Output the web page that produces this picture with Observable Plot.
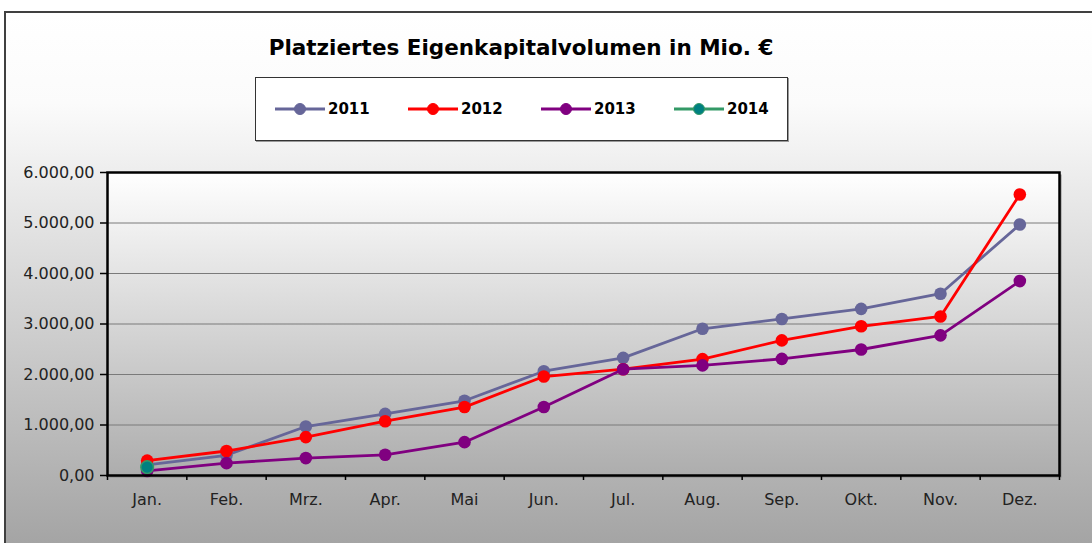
<!DOCTYPE html>
<html>
<head>
<meta charset="utf-8">
<script src="https://cdn.jsdelivr.net/npm/d3@7"></script>
<script src="https://cdn.jsdelivr.net/npm/@observablehq/plot@0.6"></script>
<style>
  html, body { margin: 0; padding: 0; background: #fff; }
  #wrap { position: relative; width: 1092px; height: 543px; overflow: hidden; font-family: "DejaVu Sans", Verdana, sans-serif; }
  #bg { position: absolute; left: 4px; top: 11px; width: 1200px; height: 600px; border: 2px solid #404040;
        background: linear-gradient(to bottom, #ffffff 0px, #fbfbfb 90px, #a4a4a4 532px); }
  #title { position: absolute; left: 0; width: 1042px; top: 35px; text-align: center; font-weight: bold; font-size: 21.5px; color: #000; }
  #legend { position: absolute; left: 255px; top: 77px; width: 533px; height: 64px; border: 1px solid #333; background: #fff;
            box-shadow: 1px 1px 0 #999; display: flex; align-items: center; padding-left: 19px; box-sizing: border-box; overflow: hidden; }
  .item { width: 133px; flex: 0 0 133px; display: flex; align-items: center; font-weight: bold; font-size: 15px; }
  .item svg { margin-right: 3px; }
  #chart { position: absolute; left: 0; top: 150px; }
</style>
</head>
<body>
<div id="wrap">
  <div id="bg"></div>
  <div id="title">Platziertes Eigenkapitalvolumen in Mio. €</div>
  <div id="legend"></div>
  <div id="chart"></div>
</div>
<script>
const months = ["Jan.","Feb.","Mrz.","Apr.","Mai","Jun.","Jul.","Aug.","Sep.","Okt.","Nov.","Dez."];
const years = ["2011","2012","2013","2014"];
const v2011 = [210, 400, 970, 1220, 1480, 2065, 2330, 2905, 3100, 3300, 3600, 4970];
const v2012 = [295, 485, 760, 1075, 1355, 1960, 2105, 2305, 2675, 2955, 3150, 5565];
const v2013 = [90, 245, 345, 410, 660, 1355, 2105, 2180, 2310, 2495, 2775, 3850];
const v2014 = [165];
const yTicks = [0, 1000, 2000, 3000, 4000, 5000, 6000];
const lineColors = ["#666699", "#ff0000", "#800080", "#339966"];
const dotColors = ["#666699", "#ff0000", "#800080", "#008080"];

const series = [v2011, v2012, v2013, v2014];
const data = series.flatMap((vals, s) => vals.map((v, i) => ({year: years[s], m: i, value: v})));
const boundaries = d3.range(months.length + 1).map(i => i - 0.5);

const de = d3.formatLocale({decimal: ",", thousands: ".", grouping: [3], currency: ["", " €"]});
const fmt = de.format(",.2f");

// legend
const legend = document.getElementById("legend");
years.forEach((y, i) => {
  const it = document.createElement("div");
  it.className = "item";
  it.innerHTML = `<svg width="50" height="14"><line x1="0" x2="50" y1="7" y2="7" stroke="${lineColors[i]}" stroke-width="3"/><circle cx="25" cy="7" r="5.5" fill="${dotColors[i]}" stroke="${lineColors[i]}" stroke-width="1"/></svg><span>${y}</span>`;
  legend.appendChild(it);
});

const defs = () => {
  const d = d3.create("svg:defs");
  const g = d.append("linearGradient").attr("id", "plotGrad").attr("x1", 0).attr("x2", 0).attr("y1", 0).attr("y2", 1);
  g.append("stop").attr("offset", "0%").attr("stop-color", "#ffffff");
  g.append("stop").attr("offset", "100%").attr("stop-color", "#adadad");
  return d.node();
};

const marks = [
  defs,
  Plot.frame({dx: 2, dy: 2, fill: "#8a8a8a"}),
  Plot.frame({fill: "url(#plotGrad)"}),
  Plot.gridY(yTicks, {stroke: "#7a7a7a", strokeOpacity: 1, strokeWidth: 1}),
  Plot.axisY(yTicks, {tickFormat: fmt, tickSize: 7, tickPadding: 6, stroke: "#000", strokeWidth: 1.5, fill: "#222"}),
  Plot.axisX(d3.range(months.length), {tickFormat: i => months[i], tickSize: 0, tickPadding: 18, fill: "#222"}),
  Plot.axisX(boundaries, {tickFormat: () => "", tickSize: 5, stroke: "#000", strokeWidth: 1.5, label: null}),
];
years.forEach((y, s) => {
  const d = data.filter(r => r.year === y);
  marks.push(Plot.line(d, {x: "m", y: "value", stroke: lineColors[s], strokeWidth: 2.8}));
  marks.push(Plot.dot(d, {x: "m", y: "value", r: 6.3, fill: dotColors[s], stroke: lineColors[s], strokeWidth: s === 3 ? 1.5 : 0}));
});
marks.push(Plot.frame({stroke: "#000", strokeWidth: 2.5}));

const chart = Plot.plot({
  width: 1092,
  height: 393,
  marginTop: 22,
  marginBottom: 68,
  marginLeft: 107,
  marginRight: 33,
  style: {background: "transparent", fontFamily: "DejaVu Sans, Verdana, sans-serif", fontSize: "16px", color: "#000", overflow: "visible"},
  x: {domain: [-0.5, months.length - 0.5], axis: null, label: null},
  y: {domain: [0, 6000], axis: null, label: null},
  marks
});
document.getElementById("chart").appendChild(chart);
</script>
</body>
</html>
